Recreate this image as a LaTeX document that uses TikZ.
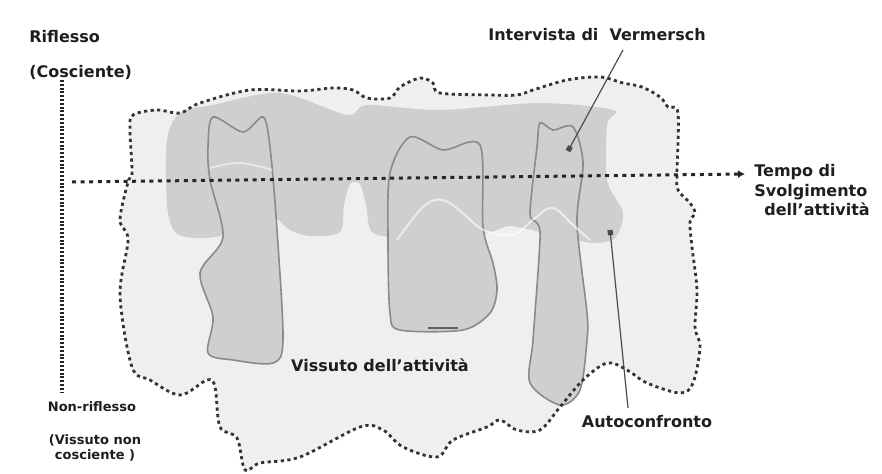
\documentclass[tikz,border=0pt]{standalone}
\usepackage{fontspec}
\setmainfont{DejaVu Sans}
\usetikzlibrary{arrows.meta}
\definecolor{vissutoLight}{HTML}{EFEFEF}
\definecolor{vissutoBand}{HTML}{CFCFCF}
\definecolor{colonnaEdge}{HTML}{8A8A8A}
\definecolor{labelInk}{HTML}{1E1E1E}

\tikzset{
  lbl/.style={font=\fontsize{8}{9.8}\selectfont\bfseries, text=labelInk, inner sep=0pt},
  lblsmall/.style={font=\fontsize{6.5}{7.6}\selectfont\bfseries, text=labelInk, inner sep=0pt, align=center},
  colonna/.style={fill=vissutoBand, draw=colonnaEdge, line width=0.8pt},
  bordo/.style={draw=black!80, line width=1.4pt, dash pattern=on 1.6pt off 1.7pt},
  tempoline/.style={draw=black!85, line width=1.5pt, dash pattern=on 2pt off 2.3pt, -{Latex[length=3.5pt,width=4pt]}},
  asse/.style={draw=black!85, line width=1.6pt, dash pattern=on 1pt off 0.9pt},
  pointer/.style={draw=black!70, line width=0.6pt, -{Square[length=2.6pt,width=2.6pt]}}
}

\begin{document}
\begin{tikzpicture}[x=0.5pt, y=-0.5pt]
  \useasboundingbox (0,0) rectangle (882,474);

  % outer blob: vissuto
  \fill[vissutoLight] plot[smooth cycle, tension=0.55] coordinates {
    (133,115) (157,110) (180,113) (200,103) (250,90) (300,91) (333,88) (353,90)
    (367,98) (390,98) (400,87) (420,78) (433,83) (440,93) (490,95) (517,95)
    (533,90) (567,80) (600,77) (623,83) (642,87) (660,97) (668,107) (678,113)
    (677,173) (678,190) (690,203) (695,213) (690,222) (692,247) (697,290) (695,327)
    (700,347) (693,383) (680,393) (647,383) (627,370) (607,363) (583,380) (560,407)
    (540,430) (517,430) (500,420) (487,427) (453,440) (437,457) (403,447) (383,430)
    (360,427) (300,457) (260,463) (245,470) (237,438) (220,427) (215,387) (207,380)
    (180,395) (150,380) (132,367) (120,295) (128,240) (120,220) (128,182) (132,173)
    (130,130)};

  % darker band (riflesso)
  \fill[vissutoBand] plot[smooth cycle, tension=0.5] coordinates {
    (167,140) (180,113) (213,105) (280,93) (347,115) (367,105) (440,110) (540,103)
    (613,110) (607,125) (607,180) (623,213) (615,238) (595,243) (575,240) (540,232)
    (510,226) (490,232) (440,238) (400,238) (372,232) (366,205) (360,184) (350,184)
    (344,205) (340,232) (310,236) (290,230) (270,215) (240,225) (220,236) (195,238)
    (175,232) (167,205)};

  % columns
  \draw[colonna] plot[smooth cycle, tension=0.5] coordinates {
    (213,117) (243,132) (263,117) (270,147) (277,230) (283,340) (273,363) (233,360)
    (208,353) (213,317) (200,273) (223,237) (210,180) (208,147)};
  \draw[colonna] plot[smooth cycle, tension=0.5] coordinates {
    (410,137) (443,150) (480,145) (483,227) (493,263) (497,290) (490,313) (463,330)
    (400,330) (390,313) (388,240) (390,173)};
  \draw[colonna] plot[smooth cycle, tension=0.5] coordinates {
    (540,123) (553,130) (573,127) (583,163) (577,223) (587,313) (587,340) (580,390)
    (560,405) (530,383) (533,340) (540,240) (537,223) (530,213) (537,147)};
  \draw[colonnaEdge!70!black, line width=1pt] (428,328) -- (458,328);

  % white waves
  \draw[white, line width=1pt, opacity=0.6] plot[smooth, tension=0.6] coordinates {
    (397,240) (423,207) (443,200) (465,215) (480,228) (500,235) (517,233) (535,218)
    (553,208) (573,225) (590,240)};
  \draw[white, line width=1pt, opacity=0.5] plot[smooth, tension=0.6] coordinates {
    (210,168) (240,163) (272,170)};

  % dotted border
  \draw[bordo] plot[smooth cycle, tension=0.55] coordinates {
    (133,115) (157,110) (180,113) (200,103) (250,90) (300,91) (333,88) (353,90)
    (367,98) (390,98) (400,87) (420,78) (433,83) (440,93) (490,95) (517,95)
    (533,90) (567,80) (600,77) (623,83) (642,87) (660,97) (668,107) (678,113)
    (677,173) (678,190) (690,203) (695,213) (690,222) (692,247) (697,290) (695,327)
    (700,347) (693,383) (680,393) (647,383) (627,370) (607,363) (583,380) (560,407)
    (540,430) (517,430) (500,420) (487,427) (453,440) (437,457) (403,447) (383,430)
    (360,427) (300,457) (260,463) (245,470) (237,438) (220,427) (215,387) (207,380)
    (180,395) (150,380) (132,367) (120,295) (128,240) (120,220) (128,182) (132,173)
    (130,130)};

  % labels
  \node[lbl, anchor=west] (riflesso) at (29,37) {Riflesso};
  \node[lbl, anchor=west] (cosciente) at (29,72) {(Cosciente)};
  \node[lbl] (vermersch) at (597,35) {Intervista di\ \ Vermersch};
  \node[lbl, anchor=north west, align=left] (tempo) at (754,164) {Tempo di\\Svolgimento\\\hspace*{5pt}dell’attività};
  \node[lbl] (vissuto) at (380,365) {Vissuto dell’attività};
  \node[lblsmall] (nonrif) at (92,407) {Non-riflesso};
  \node[lblsmall] (vissnon) at (95,448) {(Vissuto non\\cosciente )};
  \node[lbl] (autoconf) at (647,422) {Autoconfronto};

  % axes
  \coordinate (asseTop) at (62,80);
  \coordinate (asseBot) at (62,393);
  \draw[asse] (asseTop) -- (asseBot);
  \coordinate (tempoStart) at (72,182);
  \coordinate (tempoEnd) at (745,174);
  \draw[tempoline] (tempoStart) -- (tempoEnd);

  % pointers
  \coordinate (vermFoot) at (623,50);
  \coordinate (vermTip) at (568,151);
  \draw[pointer] (vermFoot) -- (vermTip);
  \coordinate (autoFoot) at (628,408);
  \coordinate (autoTip) at (610,230);
  \draw[pointer] (autoFoot) -- (autoTip);
\end{tikzpicture}
\end{document}
